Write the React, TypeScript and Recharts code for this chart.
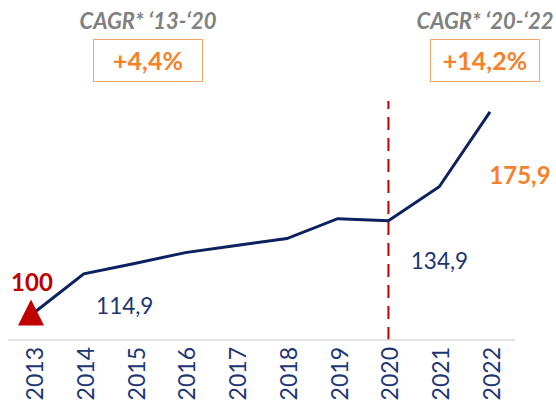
import { LabelList, Line, LineChart, ReferenceLine, XAxis, YAxis } from 'recharts'

const years = ['2013', '2014', '2015', '2016', '2017', '2018', '2019', '2020', '2021', '2022']
const index = [100, 114.9, 118.8, 122.9, 125.6, 128.2, 135.7, 134.9, 147.7, 175.9]
const valueLabels = ['100', '114,9', '', '', '', '', '', '134,9', '', '175,9']
const cagrTitles = ['CAGR* ‘13-‘20', 'CAGR* ‘20-‘22']
const cagrValues = ['+4,4%', '+14,2%']

const NAVY = '#0B2160'
const TEXT_NAVY = '#1C3573'
const RED = '#C00000'
const ORANGE = '#F5822A'
const FONT = 'Lato, "Open Sans", sans-serif'

const data = years.map((year, i) => ({ year, value: index[i], label: valueLabels[i] }))

// per-label placement relative to its point
const labelStyle: Record<number, { dx: number; dy: number; color: string; bold: boolean }> = {
  0: { dx: -1, dy: -22, color: RED, bold: true },
  1: { dx: 41, dy: 40, color: TEXT_NAVY, bold: false },
  7: { dx: 51, dy: 48, color: TEXT_NAVY, bold: false },
  9: { dx: 30, dy: 72, color: ORANGE, bold: true },
}

function YearTick({ x, y, payload }: any) {
  return (
    <text
      transform={`translate(${x + 10},${y + 7}) rotate(-90)`}
      textAnchor="end"
      fill={TEXT_NAVY}
      fontSize={23}
      fontFamily={FONT}
    >
      {payload.value}
    </text>
  )
}

function StartDot({ cx, cy, index: i }: any) {
  if (i !== 0) return <g key={`d${i}`} />
  const x = cx - 2
  return <polygon key="start" points={`${x},${cy - 14} ${x + 13},${cy + 12} ${x - 13},${cy + 12}`} fill={RED} />
}

function ValueLabel({ x, y, value, index: i }: any) {
  const s = labelStyle[i]
  if (!s || !value) return null
  return (
    <text
      x={x + s.dx}
      y={y + s.dy}
      textAnchor="middle"
      fill={s.color}
      fontSize={s.bold ? 24 : 22.5}
      fontWeight={s.bold ? 700 : 400}
      fontFamily={FONT}
    >
      {value}
    </text>
  )
}

function Cagr({ center, title, value }: { center: number; title: string; value: string }) {
  return (
    <>
      <div
        style={{
          position: 'absolute',
          left: center - 100,
          width: 200,
          top: 7,
          textAlign: 'center',
          color: '#808080',
          fontSize: 22,
          fontWeight: 700,
          fontStyle: 'italic',
          lineHeight: '27px',
          whiteSpace: 'nowrap',
        }}
      >
        {title}
      </div>
      <div
        style={{
          position: 'absolute',
          left: center - 55,
          top: 39,
          width: 110,
          height: 43,
          boxSizing: 'border-box',
          border: '1.5px solid #F3A56C',
          color: ORANGE,
          fontSize: 25,
          fontWeight: 700,
          lineHeight: '40px',
          textAlign: 'center',
        }}
      >
        {value}
      </div>
    </>
  )
}

export default function App() {
  return (
    <div style={{ position: 'relative', width: 556, height: 402, fontFamily: FONT, background: '#fff' }}>
      <style>{'body{margin:0}'}</style>
      <LineChart width={556} height={402} data={data} margin={{ top: 101, right: 41, bottom: 0, left: 8 }}>
        <XAxis
          dataKey="year"
          height={62}
          padding={{ left: 25, right: 25 }}
          tickLine={false}
          tickSize={0}
          tickMargin={0}
          interval={0}
          axisLine={{ stroke: '#D9D9D9', strokeWidth: 1.5 }}
          tick={<YearTick />}
        />
        <YAxis hide domain={[90, 180]} />
        <ReferenceLine x="2020" stroke={RED} strokeWidth={2} strokeDasharray="13 8" />
        <Line
          type="linear"
          dataKey="value"
          stroke={NAVY}
          strokeWidth={3}
          dot={<StartDot />}
          activeDot={false}
          isAnimationActive={false}
        >
          <LabelList dataKey="label" content={<ValueLabel />} />
        </Line>
      </LineChart>
      <Cagr center={148} title={cagrTitles[0]} value={cagrValues[0]} />
      <Cagr center={485} title={cagrTitles[1]} value={cagrValues[1]} />
    </div>
  )
}
